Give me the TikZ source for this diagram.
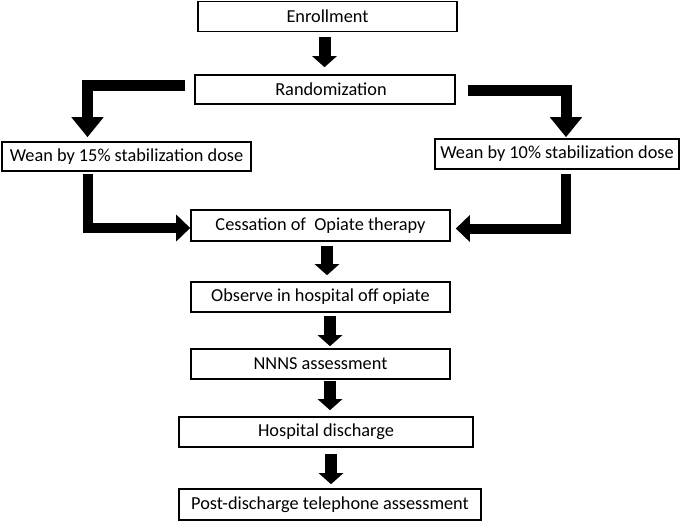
\documentclass[tikz,border=0pt]{standalone}
\usepackage{fontspec}
\setmainfont{Carlito}
\usetikzlibrary{arrows.meta}
\begin{document}
\begin{tikzpicture}[x=1pt,y=-1pt,
  box/.style={draw=black,line width=1.6pt,fill=white,inner sep=0pt,
    font=\fontsize{18.3}{21}\selectfont,anchor=center},
  varr/.style={line width=12pt,-{Triangle[length=11pt,width=24pt]}},
  elbig/.style={line width=11pt,line join=miter,-{Triangle[length=20pt,width=31pt]}},
  elsmall/.style={line width=10pt,line join=miter,-{Triangle[length=14pt,width=26pt]}}]
\useasboundingbox (0,0) rectangle (685,522);
\node[box,minimum width=259pt,minimum height=30pt] (enr) at (327.5,16.5) {Enrollment};
\node[box,minimum width=260pt,minimum height=29pt] (rand) at (325,89.5) {\hspace{12pt}Randomization};
\node[box,minimum width=249pt,minimum height=29pt] (w15) at (126.5,156.5) {Wean by 15\% stabilization dose};
\node[box,minimum width=244pt,minimum height=30pt] (w10) at (557,154) {Wean by 10\% stabilization dose};
\node[box,minimum width=259pt,minimum height=31pt] (ces) at (320.5,225.5) {Cessation of~ Opiate therapy};
\node[box,minimum width=259pt,minimum height=30pt] (obs) at (320.5,297) {Observe in hospital off opiate};
\node[box,minimum width=259pt,minimum height=30pt] (nnns) at (320.5,364) {NNNS assessment};
\node[box,minimum width=294pt,minimum height=30pt] (hd) at (326,432) {Hospital discharge};
\node[box,minimum width=302pt,minimum height=31pt] (pd) at (330,504.5) {Post-discharge telephone assessment};
% straight arrows
\draw[varr,shorten <=5pt,shorten >=7pt] ([xshift=-3pt]enr.south) -- ([xshift=-3pt]enr.south |- rand.north);
\draw[varr,shorten <=4pt,shorten >=6pt] ([xshift=6.5pt]ces.south) -- ([xshift=6.5pt]ces.south |- obs.north);
\draw[varr,shorten <=3pt,shorten >=2pt] ([xshift=9.5pt]obs.south) -- ([xshift=9.5pt]obs.south |- nnns.north);
\draw[varr,shorten <=1pt,shorten >=6pt] ([xshift=9.5pt]nnns.south) -- ([xshift=9.5pt]nnns.south |- hd.north);
\draw[varr,shorten <=6pt,shorten >=4pt] ([xshift=5pt]hd.south) -- ([xshift=5pt]hd.south |- pd.north);
% elbow arrows
\draw[elbig,shorten >=4pt] ([xshift=-9pt,yshift=4pt]rand.west) -| ([xshift=-39pt]w15.north);
\draw[elbig,shorten >=1pt] ([xshift=12pt,yshift=-1pt]rand.east) -| ([xshift=9pt]w10.north);
\draw[elsmall,shorten <=2pt] ([xshift=-39pt]w15.south) |- ([yshift=-2.5pt]ces.west);
\draw[elsmall,shorten <=4pt,shorten >=5pt] ([xshift=9pt]w10.south) |- ([yshift=-3pt]ces.east);
\end{tikzpicture}
\end{document}
